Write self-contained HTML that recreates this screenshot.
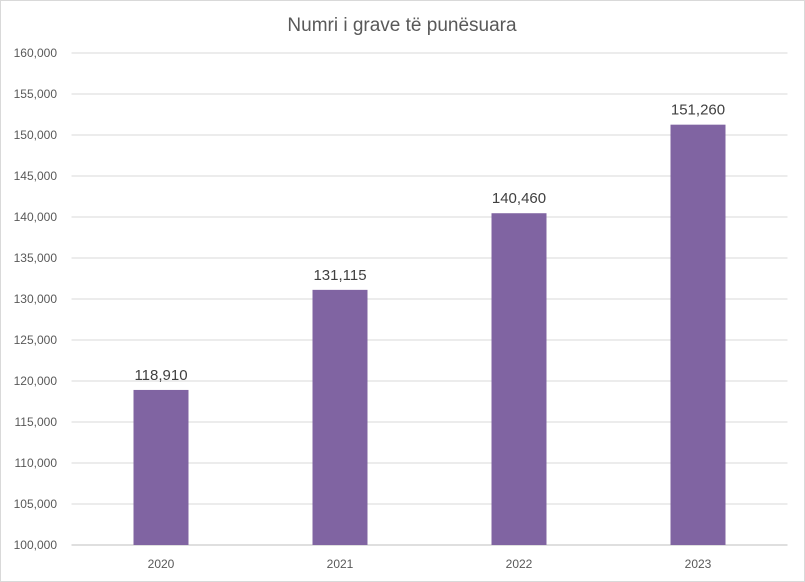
<!DOCTYPE html>
<html><head><meta charset="utf-8"><style>
html,body{margin:0;padding:0;background:#fff;}
svg{display:block;font-family:"Liberation Sans",Arial,sans-serif;}
</style></head><body>
<svg id="chart" width="805" height="582" viewBox="0 0 805 582">
<rect x="0.5" y="0.5" width="804" height="581" fill="#fff" stroke="#d9d9d9"/>
<text x="402" y="31" text-anchor="middle" font-size="19" fill="#595959">Numri i grave të punësuara</text>
<g id="grid"></g><g id="bars"></g><g id="labels"></g>
</svg>
<script>
const categories = ["2020","2021","2022","2023"];
const values = [118910,131115,140460,151260];
const valueLabels = ["118,910","131,115","140,460","151,260"];
const yTicks = [100000,105000,110000,115000,120000,125000,130000,135000,140000,145000,150000,155000,160000];
const yTickLabels = ["100,000","105,000","110,000","115,000","120,000","125,000","130,000","135,000","140,000","145,000","150,000","155,000","160,000"];
const NS="http://www.w3.org/2000/svg";
const x0=71.5,x1=787.5,yTop=53,yBot=545,yMin=100000,yMax=160000;
const yS=v=>yBot-(v-yMin)/(yMax-yMin)*(yBot-yTop);
const band=(x1-x0)/categories.length;
const xC=i=>x0+band*(i+0.5);
function mk(tag,attrs,parent){const e=document.createElementNS(NS,tag);for(const k in attrs)e.setAttribute(k,attrs[k]);document.getElementById(parent).appendChild(e);return e;}
yTicks.forEach((t,i)=>{
  const l=mk('line',{x1:x0,x2:x1,y1:yS(t),y2:yS(t),stroke:i===0?'#bfbfbf':'#d9d9d9','stroke-width':1},'grid');
  
  
  const tx=mk('text',{x:57,y:yS(t)+4,'text-anchor':'end','font-size':12,fill:'#595959'},'grid');
  tx.textContent=yTickLabels[i];
  
  
});
categories.forEach((c,i)=>{
  const w=55,y=yS(values[i]);
  const r=mk('rect',{x:xC(i)-w/2,y:y,width:w,height:yBot-y,fill:'#8064a2'},'bars');
  
  
  const lb=mk('text',{x:xC(i),y:y-10,'text-anchor':'middle','font-size':15,fill:'#404040'},'labels');
  lb.textContent=valueLabels[i];
  
  
  const xl=mk('text',{x:xC(i),y:568,'text-anchor':'middle','font-size':12,fill:'#595959'},'labels');
  xl.textContent=c;
  
  
});
</script>
</body></html>
